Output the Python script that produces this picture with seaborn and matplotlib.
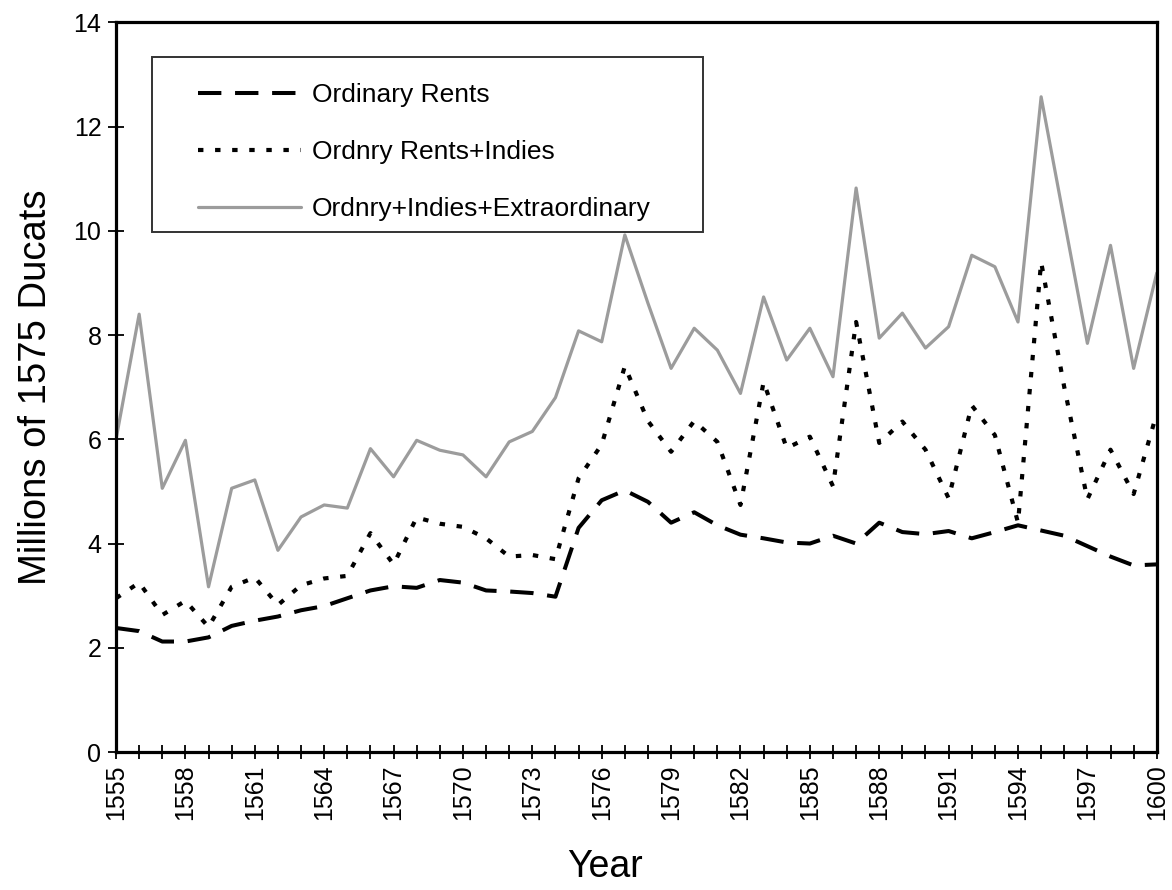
import matplotlib
matplotlib.use("Agg")
import matplotlib.pyplot as plt
import seaborn as sns
import pandas as pd
from matplotlib.patches import Rectangle
from matplotlib.ticker import MultipleLocator

years = list(range(1555, 1601))

ordinary_rents = [2.38, 2.32, 2.12, 2.12, 2.20, 2.42, 2.52, 2.60, 2.72, 2.80,
                  2.95, 3.10, 3.18, 3.15, 3.30, 3.25, 3.10, 3.08, 3.05, 2.98,
                  4.30, 4.83, 5.02, 4.80, 4.40, 4.60, 4.35, 4.17, 4.10, 4.02,
                  4.00, 4.15, 4.00, 4.40, 4.22, 4.18, 4.24, 4.10, 4.22, 4.35,
                  4.25, 4.15, 3.95, 3.75, 3.58, 3.60]

rents_indies = [2.95, 3.25, 2.63, 2.90, 2.40, 3.17, 3.35, 2.82, 3.20, 3.33,
                3.38, 4.20, 3.60, 4.50, 4.38, 4.32, 4.10, 3.75, 3.78, 3.70,
                5.25, 5.90, 7.40, 6.35, 5.76, 6.35, 5.95, 4.74, 7.10, 5.83,
                6.05, 5.10, 8.25, 5.93, 6.34, 5.80, 4.87, 6.65, 6.08, 4.40,
                9.40, 7.00, 4.85, 5.80, 4.95, 6.50]

all_revenue = [6.00, 8.40, 5.06, 5.98, 3.17, 5.06, 5.22, 3.87, 4.51, 4.74,
               4.68, 5.82, 5.28, 5.98, 5.79, 5.70, 5.28, 5.95, 6.15, 6.80,
               8.08, 7.87, 9.92, 8.61, 7.36, 8.13, 7.71, 6.88, 8.73, 7.52,
               8.13, 7.20, 10.82, 7.94, 8.42, 7.75, 8.16, 9.53, 9.31, 8.25,
               12.57, 10.20, 7.84, 9.72, 7.36, 9.19]

labels = ["Ordinary Rents", "Ordnry Rents+Indies", "Ordnry+Indies+Extraordinary"]
x_label = "Year"
y_label = "Millions of 1575 Ducats"

df = pd.DataFrame({"Year": years, "ord": ordinary_rents,
                   "ind": rents_indies, "ext": all_revenue})

sns.set_theme(style="ticks")
plt.rcParams["font.family"] = ["Liberation Sans", "DejaVu Sans"]
plt.rcParams["text.color"] = "black"
plt.rcParams["axes.labelcolor"] = "black"
plt.rcParams["xtick.color"] = "black"
plt.rcParams["ytick.color"] = "black"

fig = plt.figure(figsize=(11.72, 8.90), dpi=100)
ax = fig.add_axes([0.099, 0.155, 0.888, 0.820])

sns.lineplot(data=df, x="Year", y="ord", ax=ax, color="black", linewidth=2.9,
             linestyle=(0, (5.8, 3.4)), label=labels[0], legend=False)
sns.lineplot(data=df, x="Year", y="ind", ax=ax, color="black", linewidth=3.0,
             linestyle=(0, (1.3, 2.8)), label=labels[1], legend=False)
sns.lineplot(data=df, x="Year", y="ext", ax=ax, color="#9c9c9c", linewidth=2.3,
             linestyle="-", label=labels[2], legend=False)

ax.set_xlim(1555, 1600)
ax.set_ylim(0, 14)
ax.set_xticks(list(range(1555, 1601, 3)))
ax.xaxis.set_minor_locator(MultipleLocator(1))
ax.set_yticks(list(range(0, 15, 2)))
ax.tick_params(axis="x", which="both", direction="inout", length=10, width=1.3,
               labelsize=18, labelrotation=90, pad=4, color="black",
               labelcolor="black")
ax.tick_params(axis="y", which="both", direction="inout", length=11, width=1.3,
               labelsize=18, pad=5, color="black", labelcolor="black")
for sp in ax.spines.values():
    sp.set_visible(True)
    sp.set_linewidth(2.3)
    sp.set_color("black")

ax.set_xlabel(x_label, fontsize=27, labelpad=21, color="black")
ax.xaxis.label.set_x(0.47)
ax.set_ylabel(y_label, fontsize=27.5, labelpad=14, color="black")

# legend box
ax.add_patch(Rectangle((0.0346, 0.712), 0.5295, 0.240, transform=ax.transAxes,
                       facecolor="white", edgecolor="#333333", linewidth=1.4,
                       zorder=5))
leg = ax.legend(loc="upper left", bbox_to_anchor=(0.079, 0.917),
                frameon=False, fontsize=19, handlelength=3.9,
                handletextpad=0.4, labelspacing=1.25, borderpad=0,
                borderaxespad=0, labelcolor="black")
leg.set_zorder(6)

fig.savefig("out.png", dpi=100, facecolor="white")
